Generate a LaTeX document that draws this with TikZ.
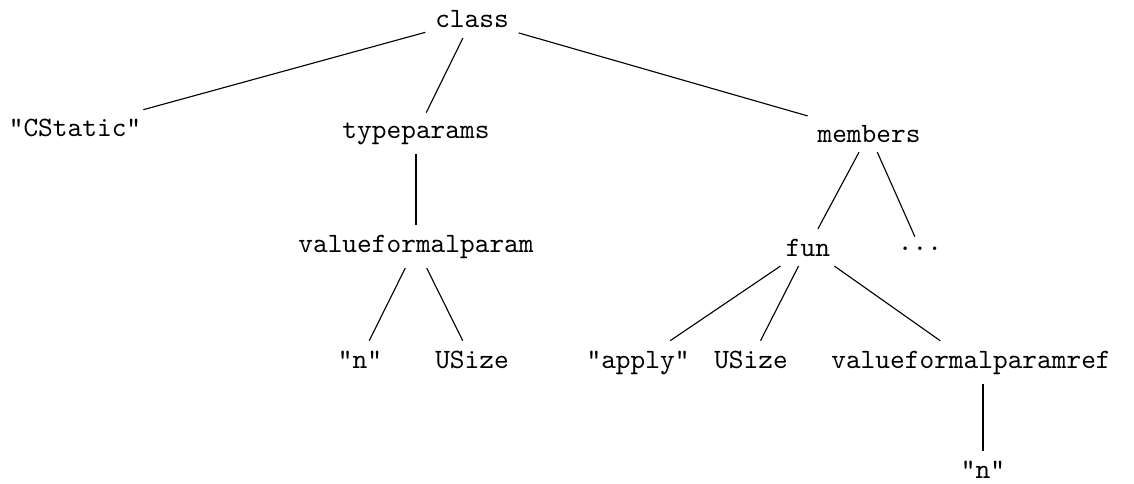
\documentclass[tikz,border=0pt]{standalone}
\begin{document}
\begin{tikzpicture}[x=0.3571pt,y=-0.3571pt,
  leaf/.style={font=\ttfamily,anchor=base,inner sep=3.333pt},
  link/.style={line width=0.4pt}]
\useasboundingbox (0,0) rectangle (1134,484);
% tree nodes (x centre, baseline)
\node[leaf] (class)  at (472,28)  {class};
\node[leaf] (cstat)  at (75,137)  {"CStatic"};
\node[leaf] (tparam) at (416,138) {typeparams};
\node[leaf] (memb)   at (869,142) {members};
\node[leaf] (vfp)    at (416,252) {valueformalparam};
\node[leaf] (fun)    at (808,256) {fun};
\node[leaf] (dots)   at (920,250) {...};
\node[leaf] (na)     at (360,368) {"n"};
\node[leaf] (usa)    at (472,368) {USize};
\node[leaf] (apply)  at (638,368) {"apply"};
\node[leaf] (usb)    at (751,368) {USize};
\node[leaf] (vfpr)   at (971,368) {valueformalparamref};
\node[leaf] (nb)     at (983,478) {"n"};
% edges
\draw[link] (class) -- (cstat);
\draw[link] (class) -- (tparam);
\draw[link] (class) -- (memb);
\draw[link] (tparam) -- (vfp);
\draw[link] (vfp) -- (na);
\draw[link] (vfp) -- (usa);
\draw[link] (memb) -- (fun);
\draw[link] (memb) -- (dots);
\draw[link] (fun) -- (apply);
\draw[link] (fun) -- (usb);
\draw[link] (fun) -- (vfpr);
\draw[link] (nb) -- (nb |- vfpr.south);
\end{tikzpicture}
\end{document}
